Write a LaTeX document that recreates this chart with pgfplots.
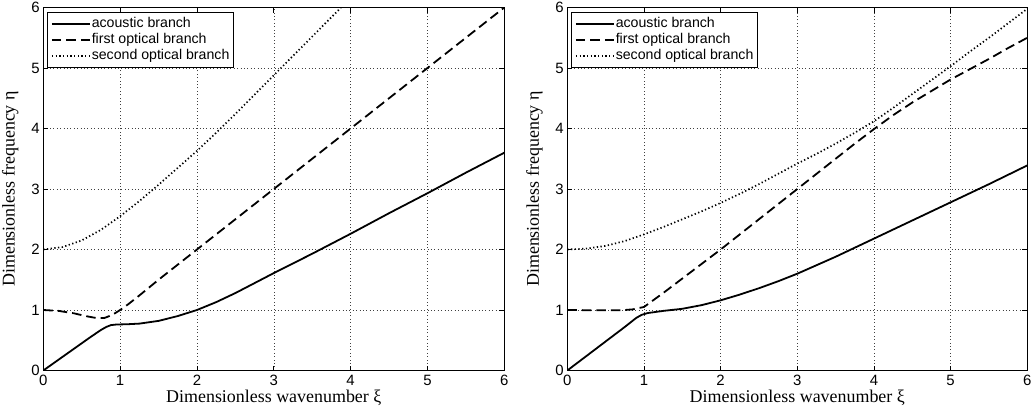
\documentclass[border=0pt]{standalone}
\usepackage{pgfplots}
\pgfplotsset{compat=1.18}
\usepackage{fontspec}
\setmainfont{Liberation Serif}
\newfontfamily\sansf{Liberation Sans}

\pgfplotsset{
 myaxis/.style={
  scale only axis, width=461bp, height=363bp,
  xmin=0,xmax=6,ymin=0,ymax=6,
  xtick={0,...,6}, ytick={0,...,6},
  grid=major,
  major grid style={black!75, line width=0.6bp, dash pattern=on 0.8bp off 2.6bp},
  axis line style={line width=1.3bp},
  tick style={black, line width=0.8bp},
  major tick length=5bp,
  tick align=inside,
  /pgf/number format/assume math mode=true,
  ticklabel style={font=\sansf\fontsize{15}{17}\selectfont},
  xticklabel style={yshift=-1bp},
  label style={font=\fontsize{18}{20}\selectfont},
  xlabel={Dimensionless wavenumber ξ},
  ylabel={Dimensionless frequency η},
  xlabel style={at={(axis description cs:0.5,0)},anchor=north,yshift=-16bp},
  ylabel style={at={(axis description cs:-0.046,0.5)},anchor=south},
  legend style={at={(axis description cs:0.008,0.988)}, anchor=north west,
    font=\sansf\fontsize{14.2}{16}\selectfont, draw=black, line width=1bp,
    inner sep=3.5bp, row sep=0bp, column sep=0bp,
    nodes={inner sep=1bp, text height=10.5bp, text depth=3.5bp},
    cells={anchor=west}},
  legend image code/.code={\draw[#1] (0bp,0bp) -- (38bp,0bp);},
 },
 acou/.style={black, line width=1.8bp},
 opt1/.style={black, line width=1.8bp, dash pattern=on 9.5bp off 5bp},
 opt2/.style={black, line width=1.7bp, dash pattern=on 1.3bp off 2.4bp},
}

\begin{document}
\begin{tikzpicture}
\begin{axis}[myaxis]
\addplot[acou] coordinates {(0,0) (0.2,0.18) (0.4,0.36) (0.6,0.54) (0.75,0.67) (0.82,0.72) (0.88,0.75) (0.95,0.76) (1.1,0.765) (1.25,0.775) (1.5,0.82) (1.75,0.9) (2,1.0) (2.25,1.13) (2.5,1.28) (2.75,1.445) (3,1.61) (3.5,1.93) (4,2.26) (4.5,2.6) (5,2.93) (5.5,3.27) (6,3.6)};
\addplot[opt1] coordinates {(0,1) (0.2,0.985) (0.4,0.945) (0.55,0.9) (0.7,0.865) (0.8,0.87) (0.9,0.92) (1.0,1.0) (1.1,1.09) (1.25,1.24) (1.5,1.5) (2,2) (3,3) (4,4) (5,5) (6,6)};
\addplot[opt2] coordinates {(0,2) (0.25,2.04) (0.5,2.15) (0.75,2.325) (1,2.55) (1.25,2.80) (1.5,3.07) (1.75,3.35) (2,3.63) (2.25,3.93) (2.5,4.24) (2.75,4.56) (3,4.88) (3.25,5.2) (3.5,5.52) (3.75,5.84) (3.875,6.0)};
\legend{acoustic branch, first optical branch, second optical branch}
\end{axis}
\begin{axis}[myaxis, at={(524bp,0)}, width=460bp]
\addplot[acou] coordinates {(0,0) (0.25,0.24) (0.5,0.48) (0.75,0.72) (0.9,0.87) (0.97,0.92) (1.05,0.95) (1.25,0.985) (1.5,1.02) (1.75,1.08) (2,1.16) (2.25,1.255) (2.5,1.36) (2.75,1.475) (3,1.6) (3.5,1.88) (4,2.18) (4.5,2.48) (5,2.78) (5.5,3.08) (6,3.39)};
\addplot[opt1] coordinates {(0,1) (0.4,0.995) (0.7,0.995) (0.85,1.01) (1,1.05) (1.25,1.28) (1.5,1.52) (1.75,1.76) (2,2.0) (2.5,2.5) (3,3.0) (3.5,3.5) (3.75,3.75) (4,3.99) (4.25,4.22) (4.5,4.43) (4.75,4.62) (5,4.81) (5.25,4.98) (5.5,5.15) (5.75,5.33) (6,5.5)};
\addplot[opt2] coordinates {(0,2) (0.25,2.015) (0.5,2.06) (0.75,2.14) (1,2.25) (1.25,2.37) (1.5,2.5) (1.75,2.63) (2,2.77) (2.25,2.92) (2.5,3.08) (2.75,3.25) (3,3.42) (3.25,3.58) (3.5,3.75) (3.75,3.93) (4,4.12) (4.25,4.34) (4.5,4.57) (4.75,4.8) (5,5.03) (5.25,5.27) (5.5,5.5) (5.75,5.74) (6,5.98)};
\legend{acoustic branch, first optical branch, second optical branch}
\end{axis}
\pgfresetboundingbox
\path[use as bounding box] (-43.3bp,-44.5bp) rectangle (988.7bp,370.5bp);
\end{tikzpicture}
\end{document}
